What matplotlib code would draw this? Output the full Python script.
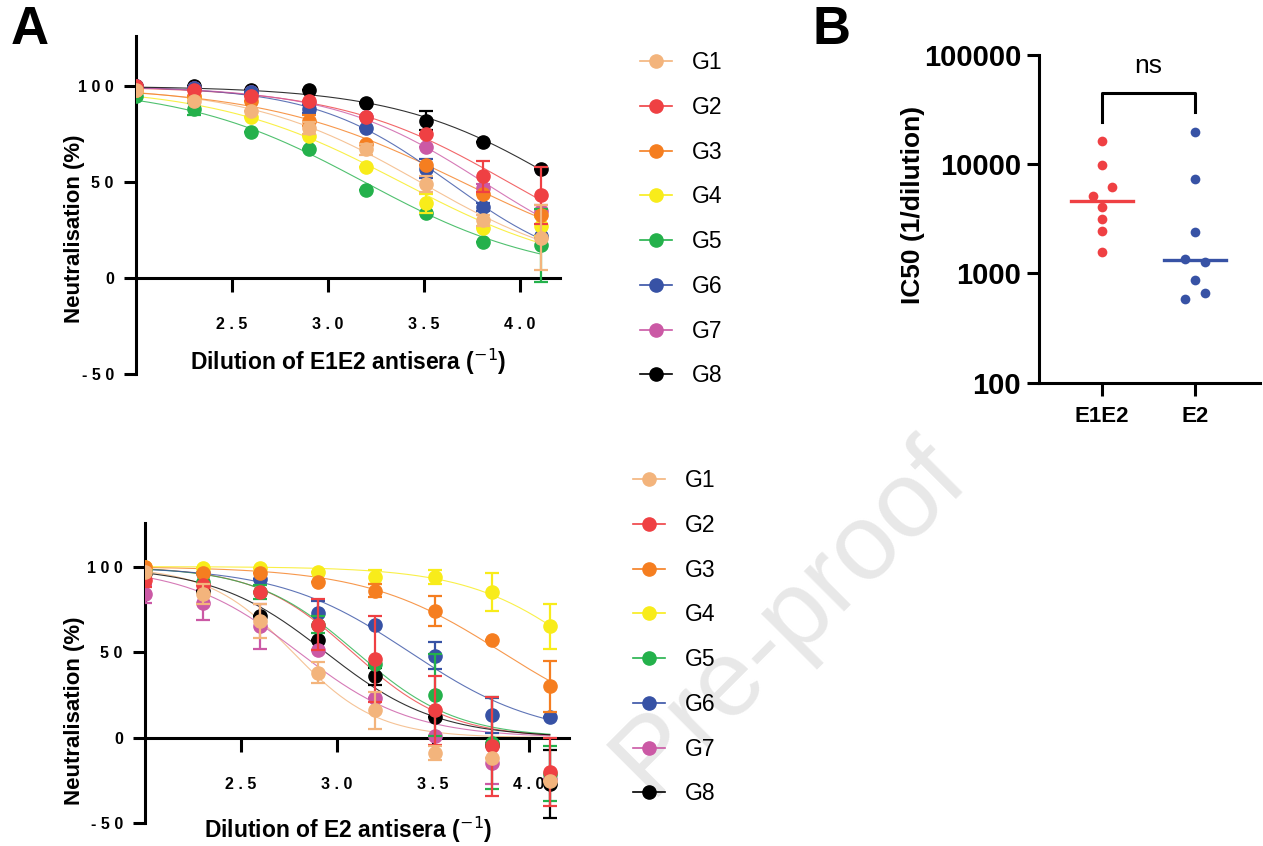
import numpy as np
import matplotlib.pyplot as plt

plt.rcParams['font.family'] = ['Liberation Sans', 'DejaVu Sans']

# log10 of the reciprocal serum dilution (1:100 ... 1:12800)
log_dil = [2.00, 2.30, 2.60, 2.90, 3.20, 3.51, 3.81, 4.11]
groups = ['G1', 'G2', 'G3', 'G4', 'G5', 'G6', 'G7', 'G8']
colors = ['#F3B47C', '#EF4043', '#F57E20', '#F8EC1A',
          '#24B14B', '#3752A5', '#CB59A5', '#000000']

# E1E2 antisera, mean neutralisation (%)
e1e2_mean = [
    [98, 92, 87, 78, 67, 49, 30, 21],     # G1
    [100, 98, 95, 92, 84, 75, 53, 43],    # G2
    [98, 95, 92, 82, 70, 59, 44, 33],     # G3
    [98, 94, 84, 74, 58, 39, 26, 27],     # G4
    [95, 88, 76, 67, 46, 34, 19, 17],     # G5
    [100, 99, 97, 88, 78, 57, 37, 22],    # G6
    [100, 99, 97, 91, 84, 68, 47, 35],    # G7
    [100, 100, 98, 98, 91, 82, 71, 57],   # G8
]
e1e2_sd = [
    [0, 0, 0, 3, 3, 4, 3, 17],
    [0, 0, 0, 0, 0, 0, 8, 15],
    [0, 0, 0, 3, 0, 0, 0, 0],
    [0, 0, 0, 0, 0, 5, 0, 5],
    [0, 3, 0, 0, 0, 0, 0, 19],
    [0, 0, 0, 2, 0, 5, 2, 0],
    [0, 0, 0, 0, 0, 0, 2, 3],
    [0, 0, 0, 0, 0, 5, 0, 0],
]

# E2 antisera, mean neutralisation (%)
e2_mean = [
    [97, 84, 68, 38, 16, -9, -12, -25],   # G1
    [92, 89, 85, 66, 46, 16, -5, -20],    # G2
    [100, 96, 96, 91, 86, 74, 57, 30],    # G3
    [100, 99, 99, 97, 94, 94, 85, 65],    # G4
    [98, 91, 85, 66, 43, 25, -3, -21],    # G5
    [98, 96, 93, 73, 66, 48, 13, 12],     # G6
    [84, 79, 65, 51, 23, 1, -15, -24],    # G7
    [96, 86, 71, 57, 36, 12, -4, -27],    # G8
]
e2_sd = [
    [0, 6, 10, 6, 11, 4, 0, 0],
    [4, 0, 0, 15, 25, 20, 29, 20],
    [0, 0, 0, 0, 4, 9, 0, 15],
    [0, 0, 0, 0, 4, 4, 11, 13],
    [0, 0, 4, 5, 0, 24, 27, 16],
    [0, 0, 0, 7, 0, 8, 10, 0],
    [5, 10, 13, 0, 0, 0, 12, 0],
    [0, 0, 0, 0, 5, 0, 0, 20],
]

# IC50 (1/dilution) per animal
e1e2_ic50 = [16300, 9840, 6160, 5150, 4030, 3150, 2470, 1580]
e2_ic50 = [19600, 7330, 2420, 1350, 1280, 872, 662, 580]
e1e2_offset = [0, 0, 0.107, -0.10, 0, 0, 0, 0]
e2_offset = [0, 0, 0, -0.107, 0.107, 0, 0.107, -0.107]

xticks = [2.5, 3.0, 3.5, 4.0]
xtick_labels = ['2 . 5', '3 . 0', '3 . 5', '4 . 0']
yticks = [100, 50, 0, -50]
ytick_labels = ['1 0 0', '5 0', '0', '- 5 0']


def fit_curve(x, y):
    # 4PL with top 100 / bottom 0, least squares by grid search
    x = np.asarray(x)
    y = np.asarray(y, dtype=float)
    best = None
    for L in np.arange(1.5, 6.0, 0.01):
        for h in np.arange(0.3, 4.0, 0.02):
            pred = 100 / (1 + 10 ** ((x - L) * h))
            err = np.sum((pred - y) ** 2)
            if best is None or err < best[0]:
                best = (err, L, h)
    return best[1], best[2]


def neut_panel(ax, means, sds, xlabel, xlabel_pos, ylabel_pos):
    xs = np.linspace(log_dil[0], log_dil[-1], 200)
    n = len(groups)
    for k, (g, m, s, c) in enumerate(zip(groups, means, sds, colors)):
        z = 3 + (n - k) * 0.1   # G1 ends up on top
        L, h = fit_curve(log_dil, m)
        ax.plot(xs, 100 / (1 + 10 ** ((xs - L) * h)), color=c, lw=0.8,
                alpha=0.8, zorder=2)
        ax.errorbar(log_dil, m, yerr=s, fmt='none', ecolor=c, elinewidth=1.6,
                    capsize=5, capthick=1.6, zorder=z)
        ax.plot(log_dil, m, 'o', color=c, ms=9.5, zorder=z + 0.05)
        ax.plot([], [], '-o', color=c, ms=9.5, lw=1.2, label=g)
    ax.set_facecolor('none')
    ax.set_xlim(2.0, 4.21)
    ax.set_ylim(-50, 126)
    for sp in ['top', 'right']:
        ax.spines[sp].set_visible(False)
    ax.spines['bottom'].set_position(('data', 0))
    for sp in ['left', 'bottom']:
        ax.spines[sp].set_linewidth(2.2)
    ax.set_xticks(xticks)
    ax.set_xticklabels(xtick_labels, fontsize=11.5, fontweight='bold')
    ax.set_yticks(yticks)
    ax.set_yticklabels(ytick_labels, fontsize=11.5, fontweight='bold')
    ax.tick_params(axis='x', length=10, width=2.2, pad=18)
    ax.tick_params(axis='y', length=9, width=2.2, pad=7)
    ax.set_xlabel(xlabel, fontsize=16.5, fontweight='bold')
    ax.xaxis.set_label_coords(*xlabel_pos)
    ax.set_ylabel('Neutralisation (%)', fontsize=16, fontweight='bold')
    ax.yaxis.set_label_coords(*ylabel_pos)


fig = plt.figure(figsize=(12.63, 8.46), dpi=100)

fig.text(0.625, 0.27, 'Pre-proof', fontsize=78, color='#E8E8E8',
         rotation=45, ha='center', va='center', zorder=-1)

ax1 = fig.add_axes([0.1077, 0.5579, 0.3357, 0.3995])
neut_panel(ax1, e1e2_mean, e1e2_sd, r'Dilution of E1E2 antisera ($^{-1}$)',
           (0.50, 0.081), (-0.12, 0.429))

ax2 = fig.add_axes([0.1148, 0.0268, 0.3357, 0.3553])
neut_panel(ax2, e2_mean, e2_sd, r'Dilution of E2 antisera ($^{-1}$)',
           (0.479, 0.028), (-0.1415, 0.375))
ax2.set_ylim(-50, 125.6)

for ax, (lx, ly) in [(ax1, (640, 51)), (ax2, (633, 469))]:
    h, l = ax.get_legend_handles_labels()
    fig.legend(h, l, loc='upper left', bbox_to_anchor=(lx / 1263, 1 - ly / 846),
               frameon=False, fontsize=16.5, handlelength=1.4, handletextpad=0.85,
               labelspacing=0.95, borderpad=0, borderaxespad=0)

# panel B
ax3 = fig.add_axes([0.8227, 0.5476, 0.175, 0.3874])
ax3.set_facecolor('none')
cats = ['E1E2', 'E2']
for i, (vals, offs, c) in enumerate([(e1e2_ic50, e1e2_offset, colors[1]),
                                     (e2_ic50, e2_offset, colors[5])]):
    ax3.plot(np.array(offs) + i, vals, 'o', color=c, ms=7, mec='none', zorder=3)
    med = np.median(vals)
    ax3.plot([i - 0.33, i + 0.33], [med, med], color=c, lw=2.4, zorder=2)
ax3.set_yscale('log')
ax3.set_ylim(100, 100000)
ax3.set_xlim(-0.674, 1.70)
ax3.set_yticks([100, 1000, 10000, 100000])
ax3.set_yticklabels(['100', '1000', '10000', '100000'], fontsize=21, fontweight='bold')
ax3.yaxis.set_minor_locator(plt.NullLocator())
ax3.set_xticks([0, 1])
ax3.set_xticklabels(cats, fontsize=16, fontweight='bold')
ax3.tick_params(axis='y', length=9, width=2.2, pad=4)
ax3.tick_params(axis='x', length=9, width=2.2, pad=8)
for sp in ['top', 'right']:
    ax3.spines[sp].set_visible(False)
for sp in ['left', 'bottom']:
    ax3.spines[sp].set_linewidth(2.2)
ax3.set_ylabel('IC50 (1/dilution)', fontsize=19, fontweight='bold')
ax3.yaxis.set_label_coords(-0.516, 0.542)
ax3.plot([0, 0, 1, 1], [24500, 44700, 44700, 29800], color='black', lw=2.2,
         clip_on=False)
ax3.text(0.5, 62000, 'ns', ha='center', va='bottom', fontsize=19)

fig.text(30 / 1263, 1 - 30 / 846, 'A', fontsize=38, fontweight='bold',
         ha='center', va='center')
fig.text(832 / 1263, 1 - 30 / 846, 'B', fontsize=38, fontweight='bold',
         ha='center', va='center')

fig.savefig('out.png', dpi=100)
